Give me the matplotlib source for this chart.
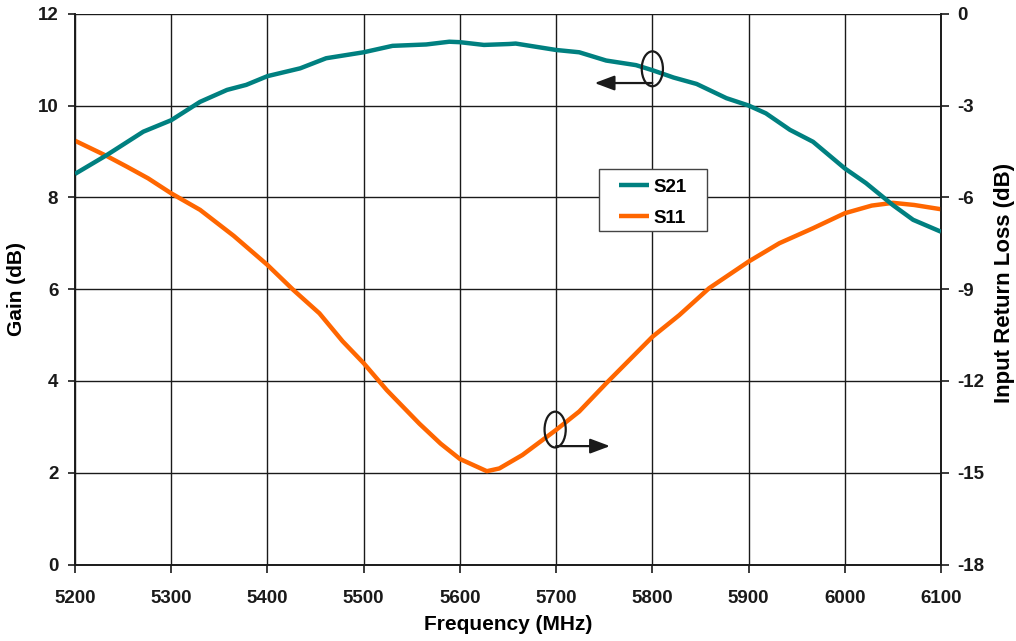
import matplotlib
matplotlib.use("Agg")
import matplotlib.pyplot as plt
from matplotlib.patches import Ellipse, Rectangle

plt.rcParams["font.family"] = ["Liberation Sans", "DejaVu Sans"]
plt.rcParams["font.weight"] = "bold"
plt.rcParams["axes.unicode_minus"] = False

# Gain (S21), left axis
freq_s21 = [5200, 5233, 5271, 5300, 5330, 5358, 5378, 5400, 5434, 5461,
            5500, 5530, 5565, 5589, 5600, 5625, 5651, 5658, 5700, 5724,
            5752, 5783, 5800, 5822, 5846, 5877, 5900, 5918, 5943, 5967,
            6000, 6022, 6050, 6071, 6100]
gain_s21 = [8.51, 8.92, 9.43, 9.68, 10.08, 10.34, 10.45, 10.64, 10.81, 11.03,
            11.16, 11.30, 11.33, 11.39, 11.38, 11.32, 11.34, 11.35, 11.21, 11.16,
            10.98, 10.88, 10.77, 10.61, 10.47, 10.16, 10.00, 9.83, 9.47, 9.21,
            8.63, 8.31, 7.83, 7.51, 7.25]

# Input return loss (S11), right axis
freq_s11 = [5200, 5233, 5254, 5276, 5300, 5330, 5365, 5400, 5427, 5454,
            5478, 5500, 5524, 5558, 5580, 5600, 5628, 5641, 5665, 5700,
            5724, 5752, 5776, 5800, 5828, 5859, 5900, 5932, 5967, 6000,
            6028, 6050, 6072, 6100]
loss_s11 = [-4.15, -4.65, -5.00, -5.38, -5.87, -6.41, -7.26, -8.21, -9.03, -9.79,
            -10.70, -11.42, -12.30, -13.40, -14.05, -14.55, -14.95, -14.86, -14.42, -13.60,
            -13.00, -12.08, -11.32, -10.56, -9.85, -8.97, -8.10, -7.50, -7.01, -6.52,
            -6.27, -6.18, -6.25, -6.39]

x_ticks = [5200, 5300, 5400, 5500, 5600, 5700, 5800, 5900, 6000, 6100]
gain_ticks = [0, 2, 4, 6, 8, 10, 12]
loss_ticks = [-18, -15, -12, -9, -6, -3, 0]

teal = "#008080"
orange = "#FF6600"
ink = "#1a1a1a"

fig = plt.figure(figsize=(10.16, 6.41), dpi=100)
ax = fig.add_axes([0.0738, 0.1193, 0.8524, 0.8593])
ax2 = ax.twinx()

ax.set_xlim(5200, 6100)
ax.set_ylim(0, 12)
ax2.set_ylim(-18, 0)
ax.set_xticks(x_ticks)
ax.set_yticks(gain_ticks)
ax2.set_yticks(loss_ticks)

ax.grid(True, color=ink, linewidth=1.0)
ax.set_axisbelow(True)

for a in (ax, ax2):
    a.spines["top"].set_visible(False)
    for s in ("left", "right", "bottom"):
        a.spines[s].set_color(ink)
        a.spines[s].set_linewidth(1.2)

ax.tick_params(axis="x", direction="out", length=6, width=1.2, pad=12,
               labelsize=13.5, colors=ink)
ax.tick_params(axis="y", direction="out", length=5, width=1.2, pad=7,
               labelsize=13.5, colors=ink)
ax2.tick_params(axis="y", direction="out", length=6, width=1.2, pad=6,
                labelsize=13.5, colors=ink)

l11, = ax2.plot(freq_s11, loss_s11, color=orange, linewidth=3.2,
                label="S11", zorder=2, solid_capstyle="butt")
l21, = ax2.plot(freq_s21, gain_s21, color=teal, linewidth=3.2,
                label="S21", transform=ax.transData, zorder=3,
                solid_capstyle="butt")

ax.set_xlabel("Frequency (MHz)", fontsize=15, fontweight="bold", labelpad=6)
ax.set_ylabel("Gain (dB)", fontsize=15, fontweight="bold")
ax.yaxis.set_label_coords(-0.057, 0.5)
ax2.set_ylabel("Input Return Loss (dB)", fontsize=16, fontweight="bold")
ax2.yaxis.set_label_coords(1.0615, 0.511)

# Legend: white framed box with the two series entries centred inside
legend_box = (0.605, 0.6055, 0.1247, 0.1125)
ax2.add_patch(Rectangle(legend_box[:2], legend_box[2], legend_box[3],
                        transform=ax2.transAxes, facecolor="white",
                        edgecolor="#444444", linewidth=1.0, zorder=6))
entries_anchor = (legend_box[0], legend_box[1] - 0.005,
                  legend_box[2], legend_box[3])
leg = ax2.legend(handles=[l21, l11], loc="center",
                 bbox_to_anchor=entries_anchor, frameon=False,
                 fontsize=13.5, handlelength=1.6, handletextpad=0.25,
                 borderpad=0.0, labelspacing=0.72, borderaxespad=0)
leg.set_zorder(7)

# Series markers: ellipse on each curve with an arrow toward its axis
arrow_style = "-|>,head_length=1.2,head_width=0.45"
ax2.add_patch(Ellipse((5800, 10.8), 22, 0.76, transform=ax.transData,
                      fill=False, edgecolor=ink, linewidth=1.6, zorder=4))
ax2.annotate("", xy=(5740, 10.49), xytext=(5800, 10.49),
             xycoords=ax.transData, textcoords=ax.transData,
             arrowprops=dict(arrowstyle=arrow_style, color=ink,
                             linewidth=1.6, shrinkA=0, shrinkB=0),
             zorder=4)
ax2.add_patch(Ellipse((5699, 2.94), 22, 0.78, transform=ax.transData,
                      fill=False, edgecolor=ink, linewidth=1.6, zorder=4))
ax2.annotate("", xy=(5756, 2.58), xytext=(5700, 2.58),
             xycoords=ax.transData, textcoords=ax.transData,
             arrowprops=dict(arrowstyle=arrow_style, color=ink,
                             linewidth=1.6, shrinkA=0, shrinkB=0),
             zorder=4)

fig.savefig("out.png", dpi=100, facecolor="white")
